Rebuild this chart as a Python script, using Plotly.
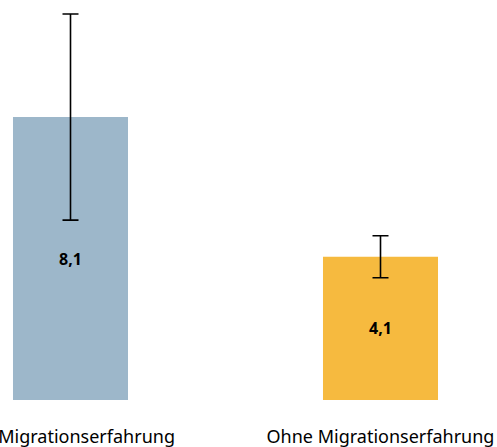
import plotly.graph_objects as go

categories = ["Mit Migrationserfahrung", "Ohne Migrationserfahrung"]
values = [8.1, 4.1]
err_plus = [2.95, 0.6]
err_minus = [2.95, 0.6]
colors = ["#9DB7CA", "#F6BA3F"]

fig = go.Figure(
    go.Bar(
        x=[0, 1],
        y=values,
        width=0.371,
        marker=dict(color=colors, line=dict(width=0)),
        error_y=dict(type="data", symmetric=False, array=err_plus, arrayminus=err_minus,
                     color="black", thickness=1.6, width=8),
        texttemplate="%{y:.1f}",
        textposition="inside",
        insidetextanchor="middle",
        textfont=dict(family="Noto Sans", size=16, color="black", weight="bold"),
        cliponaxis=False,
        hoverinfo="skip",
    )
)

fig.update_layout(
    template="none",
    width=497,
    height=447,
    margin=dict(l=0, r=0, t=0, b=47),
    separators=",.",
    paper_bgcolor="white",
    plot_bgcolor="white",
    showlegend=False,
    font=dict(family="Noto Sans", size=18, color="black"),
    xaxis=dict(
        tickmode="array",
        tickvals=[0, 1],
        ticktext=categories,
        range=[-0.2274, 1.3758],
        showgrid=False,
        zeroline=False,
        showline=False,
        ticks="",
        automargin=False,
        ticklabeloverflow="allow",
        ticklabelstandoff=24,
        tickfont=dict(family="Noto Sans", size=18, color="black"),
    ),
    yaxis=dict(
        range=[0, 11.45],
        visible=False,
        automargin=False,
    ),
)

fig.write_html(
    "out.html",
    config={"displayModeBar": False},
    post_script="document.body.style.margin='0';document.body.style.overflow='hidden';",
)
